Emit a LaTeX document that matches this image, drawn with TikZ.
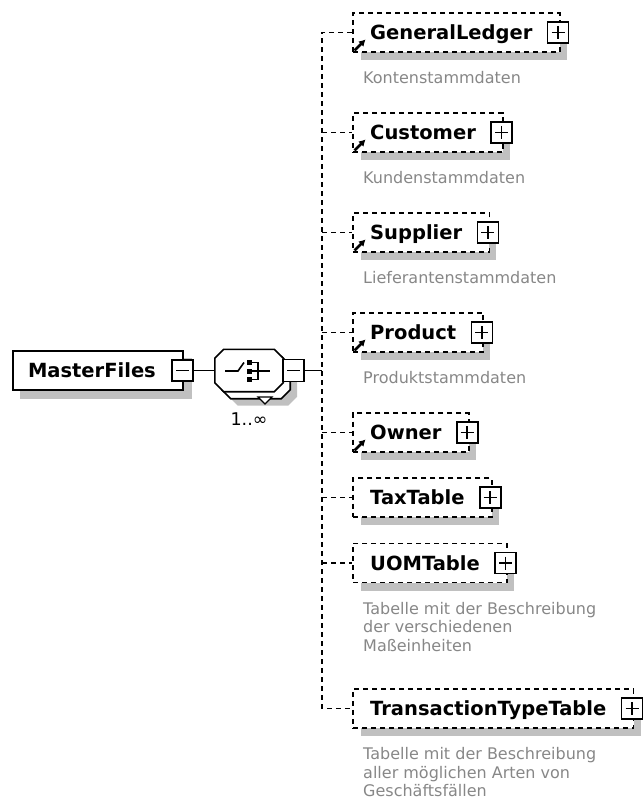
\documentclass[tikz,border=0pt]{standalone}
\usepackage{fontspec}
\setmainfont{DejaVu Sans}
\usetikzlibrary{arrows.meta,calc,fit}
\pgfdeclarelayer{shadowl}
\pgfdeclarelayer{boxl}
\pgfsetlayers{shadowl,boxl,main}
\definecolor{shadowc}{HTML}{C0C0C0}
\definecolor{descc}{HTML}{878787}
\tikzset{
  conn/.style={line width=1.9pt, dash pattern=on 5pt off 4pt},
  solidconn/.style={line width=1.7pt},
  titletext/.style={font=\fontsize{19.5}{22}\selectfont\bfseries, inner sep=0pt, text height=18pt, text depth=3.8pt},
  desctext/.style={font=\fontsize{16}{18.5}\selectfont, text=descc, inner sep=0pt, align=left},
  childbox/.style={draw, fill=white, line width=1.9pt, dash pattern=on 5pt off 4pt, inner sep=0pt},
  mfbox/.style={draw, fill=white, line width=1.9pt, minimum height=39pt, text width=140pt, inner xsep=15pt, inner ysep=0pt, align=left, font=\fontsize{19.5}{22}\selectfont\bfseries},
  pmbase/.style={draw, fill=white, line width=1.7pt, minimum width=21pt, minimum height=21pt, inner sep=0pt},
  plusbox/.style={pmbase, path picture={\draw[line width=1.7pt] ([xshift=4pt]path picture bounding box.west) -- ([xshift=-4pt]path picture bounding box.east) ([yshift=-4pt]path picture bounding box.north) -- ([yshift=4pt]path picture bounding box.south);}},
  minusbox/.style={pmbase, path picture={\draw[line width=1.7pt] ([xshift=4pt]path picture bounding box.west) -- ([xshift=-4pt]path picture bounding box.east);}},
  refarrow/.style={line width=2.6pt, -{Latex[length=6.5pt,width=7.5pt]}},
  seqframe/.style={minimum width=68pt, minimum height=42pt, inner sep=0pt},
  octline/.style={draw, line width=1.6pt, fill=white},
}
\newcommand\octpath[1]{($(#1.north west)+(9,0)$) -- ($(#1.north east)+(-9,0)$) -- ($(#1.north east)+(0,9)$) -- ($(#1.south east)+(0,-9)$) -- ($(#1.south east)+(-9,0)$) -- ($(#1.south west)+(9,0)$) -- ($(#1.south west)+(0,-9)$) -- ($(#1.north west)+(0,9)$) -- cycle}
\newcommand\childel[3]{%
  \coordinate (j#1) at (322,#3);
  \node[titletext, anchor=west] (#1t) at (370,#3) {#2};
  \node[plusbox] (#1p) at ($(#1t.east)+(25.5,0)$) {};
  \coordinate (#1nw) at (353,#3-19.5);
  \coordinate (#1se) at ($(#1p.center)+(1.5,19.5)$);
  \begin{pgfonlayer}{boxl}\node[childbox, fit=(#1nw)(#1se)] (#1) {};\end{pgfonlayer}
  \begin{pgfonlayer}{shadowl}\fill[shadowc] ($(#1nw)+(8,8)$) rectangle ($(#1se)+(7,8)$);\end{pgfonlayer}
}
\newcommand\refmark[1]{\draw[refarrow] ($(#1.south west)+(2.5,-2.5)$) -- ++(11,-11);}
\begin{document}
\begin{tikzpicture}[x=1pt,y=-1pt]
\useasboundingbox (0,0) rectangle (644,805);

% MasterFiles
\node[mfbox] (mf) at (98,370.5) {MasterFiles};
\begin{pgfonlayer}{shadowl}\fill[shadowc] ($(mf.north west)+(8,8)$) rectangle ($(mf.south east)+(8,8)$);\end{pgfonlayer}
\node[minusbox] (mfm) at (182.5,370.5) {};

% sequence compositor
\node[seqframe] (seqsh) at (263,384.5) {};
\node[seqframe] (seqbk) at (256,377.5) {};
\node[seqframe] (seq) at (249,370.5) {};
\fill[shadowc] \octpath{seqsh};
\path[octline] \octpath{seqbk};
\draw[line width=1.2pt, fill=white] ($(seq.center)+(9,26.5)$) -- ($(seq.center)+(23,26.5)$) -- ($(seq.center)+(16,33.5)$) -- cycle;
\path[octline] \octpath{seq};
\begin{scope}[shift={(seq.center)}]
  \draw[line width=1.6pt] (-24,0.5) -- (-11,0.5) -- (-5,-8);
  \fill (-2.5,-10.5) rectangle (2.5,-5.5);
  \fill (-2.5,-2) rectangle (2.5,3);
  \fill (-2.5,6.5) rectangle (2.5,11.5);
  \draw[line width=1.6pt] (2.5,-8) -- (9,-8) -- (9,9) -- (2.5,9);
  \draw[line width=1.6pt] (2.5,0.5) -- (21,0.5);
\end{scope}
\node[minusbox, minimum height=22pt] (seqm) at (293.5,370.5) {};
\node[font=\fontsize{17.5}{20}\selectfont, inner sep=0pt] (mult) at (249,419) {1..∞};

\coordinate (jMF) at (322,370.5);
\draw[solidconn] (mfm.east) -- (seq.west);
\draw[solidconn] (seqm.east) -- (jMF);

% children
\childel{GL}{GeneralLedger}{32.5}
\childel{CU}{Customer}{132.5}
\childel{SU}{Supplier}{232.5}
\childel{PR}{Product}{332.5}
\childel{OW}{Owner}{432.5}
\childel{TX}{TaxTable}{497.5}
\childel{UO}{UOMTable}{563}
\childel{TTT}{TransactionTypeTable}{708.5}

\refmark{GL}
\refmark{CU}
\refmark{SU}
\refmark{PR}
\refmark{OW}

\node[desctext, anchor=north west] (GLd) at (363,32.5+39) {Kontenstammdaten};
\node[desctext, anchor=north west] (CUd) at (363,132.5+39) {Kundenstammdaten};
\node[desctext, anchor=north west] (SUd) at (363,232.5+39) {Lieferantenstammdaten};
\node[desctext, anchor=north west] (PRd) at (363,332.5+39) {Produktstammdaten};
\node[desctext, anchor=north west] (UOd) at (363,563+39) {Tabelle mit der Beschreibung\\der verschiedenen\\Maßeinheiten};
\node[desctext, anchor=north west] (TTTd) at (363,708.5+39) {Tabelle mit der Beschreibung\\aller möglichen Arten von\\Geschäftsfällen};

% connectors
\draw[conn] (GL.west) -- (jGL) -- (jTTT) -- (TTT.west);
\foreach \c in {CU,SU,PR,OW,TX,UO} {\draw[conn] (j\c) -- (\c.west);}
\end{tikzpicture}
\end{document}
